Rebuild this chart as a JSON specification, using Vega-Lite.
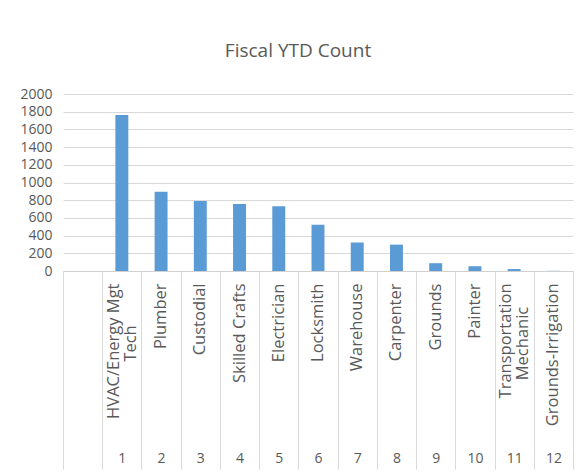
{
  "$schema": "https://vega.github.io/schema/vega-lite/v6.json",
  "width": 510,
  "height": 177,
  "autosize": {"type": "none"},
  "padding": {"left": 63, "top": 94, "right": 5, "bottom": 204},
  "background": "white",
  "config": {
    "view": {"stroke": null},
    "font": "Open Sans"
  },
  "title": {
    "text": "Fiscal YTD Count",
    "fontSize": 19,
    "fontWeight": "normal",
    "color": "#595959",
    "font": "Open Sans",
    "anchor": "middle",
    "dx": -20,
    "offset": 26
  },
  "data": {
    "values": [
      {"key": "0|", "count": 0},
      {"key": "1|HVAC/Energy Mgt^Tech", "count": 1762},
      {"key": "2|Plumber", "count": 896},
      {"key": "3|Custodial", "count": 791},
      {"key": "4|Skilled Crafts", "count": 757},
      {"key": "5|Electrician", "count": 731},
      {"key": "6|Locksmith", "count": 522},
      {"key": "7|Warehouse", "count": 322},
      {"key": "8|Carpenter", "count": 298},
      {"key": "9|Grounds", "count": 88},
      {"key": "10|Painter", "count": 54},
      {"key": "11|Transportation^Mechanic", "count": 22},
      {"key": "12|Grounds-Irrigation", "count": 2}
    ]
  },
  "layer": [
    {
      "mark": {"type": "bar", "color": "#5B9BD5", "width": {"band": 0.33}},
      "encoding": {
        "x": {
          "field": "key",
          "type": "nominal",
          "sort": null,
          "scale": {"paddingInner": 0, "paddingOuter": 0},
          "axis": {
            "orient": "bottom",
            "title": null,
            "labelAngle": -90,
            "labelExpr": "indexof(datum.value, '^') < 0 ? split(datum.value, '|')[1] + ' ' : ' '",
            "labelFontSize": 16.5,
            "labelColor": "#595959",
            "labelPadding": 12,
            "ticks": false,
            "domain": false,
            "grid": false
          }
        },
        "y": {
          "field": "count",
          "type": "quantitative",
          "scale": {"domain": [0, 2000]},
          "axis": {
            "title": null,
            "format": "d",
            "values": [0, 200, 400, 600, 800, 1000, 1200, 1400, 1600, 1800, 2000],
            "labelFontSize": 14,
            "labelColor": "#595959",
            "labelPadding": 11,
            "ticks": false,
            "domain": false,
            "gridColor": "#d9d9d9",
            "gridWidth": 1
          }
        }
      }
    },
    {
      "mark": {"type": "point", "opacity": 0},
      "encoding": {
        "x": {
          "field": "key",
          "type": "nominal",
          "sort": null,
          "axis": {
            "orient": "bottom",
            "title": null,
            "labelAngle": -90,
            "labelExpr": "indexof(datum.value, '^') >= 0 ? split(split(datum.value, '|')[1], '^')[0] : ' '",
            "labelFontSize": 16.5,
            "labelColor": "#595959",
            "labelPadding": 12,
            "labelOffset": -8,
            "ticks": false,
            "domain": false,
            "grid": false
          }
        }
      }
    },
    {
      "mark": {"type": "point", "opacity": 0},
      "encoding": {
        "x": {
          "field": "key",
          "type": "nominal",
          "sort": null,
          "axis": {
            "orient": "bottom",
            "title": null,
            "labelAngle": -90,
            "labelAlign": "center",
            "labelExpr": "indexof(datum.value, '^') >= 0 ? split(split(datum.value, '|')[1], '^')[1] : ' '",
            "labelFontSize": 16.5,
            "labelColor": "#595959",
            "labelPadding": 72,
            "labelOffset": 9,
            "ticks": false,
            "domain": false,
            "grid": false
          }
        }
      }
    },
    {
      "mark": {"type": "point", "opacity": 0},
      "encoding": {
        "x": {
          "field": "key",
          "type": "nominal",
          "sort": null,
          "axis": {
            "orient": "bottom",
            "title": null,
            "labelAngle": 0,
            "labelExpr": "isString(datum.value) && indexof(datum.value, '|') > 0 && split(datum.value, '|')[0] != '0' ? split(datum.value, '|')[0] : ' '",
            "labelFontSize": 14,
            "labelColor": "#595959",
            "labelBaseline": "top",
            "labelPadding": -18,
            "ticks": true,
            "tickBand": "extent",
            "tickSize": 198,
            "tickColor": "#d9d9d9",
            "domain": true,
            "domainColor": "#d0d0d0",
            "grid": false
          }
        }
      }
    }
  ],
  "resolve": {"axis": {"x": "independent"}}
}
